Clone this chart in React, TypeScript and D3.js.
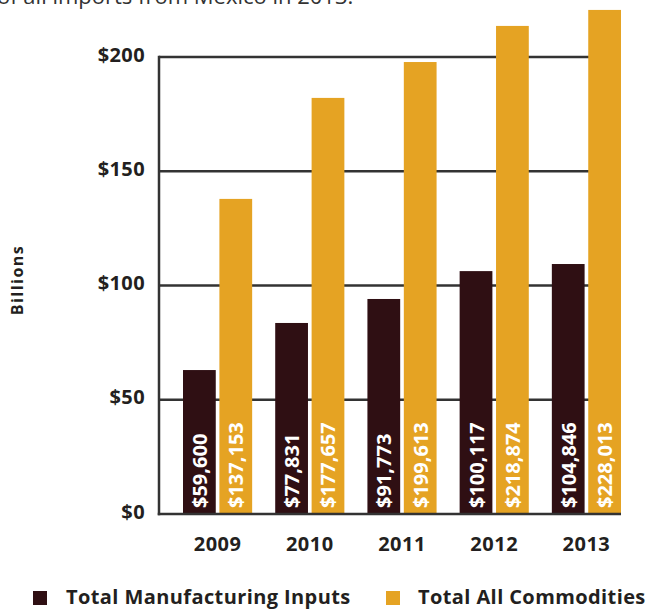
import React from "react";
import * as d3 from "d3";

const years = ["2009", "2010", "2011", "2012", "2013"];
const series = ["Total Manufacturing Inputs", "Total All Commodities"];
const manufacturing = [63.0, 83.6, 94.1, 106.3, 109.4];
const allCommodities = [137.9, 182.1, 197.8, 213.6, 220.6];
const manufacturingLabels = ["$59,600", "$77,831", "$91,773", "$100,117", "$104,846"];
const allCommoditiesLabels = ["$137,153", "$177,657", "$199,613", "$218,874", "$228,013"];
const yTicks = [0, 50, 100, 150, 200];
const colors = ["#2f0f13", "#e5a323"];

const FONT = "'Open Sans', 'Noto Sans', sans-serif";
const INK = "#231f20";

export default function App() {
  const W = 649;
  const H = 609;
  const axisX = 159;
  const right = 621;
  const y = d3.scaleLinear().domain([0, 200]).range([514, 57]);
  const x = d3.scaleBand<string>().domain(years).range([183, right]).paddingInner(0.25).paddingOuter(0);
  const xi = d3.scaleBand<string>().domain(series).range([0, x.bandwidth()]).paddingInner(0.1);
  const values = [manufacturing, allCommodities];
  const labels = [manufacturingLabels, allCommoditiesLabels];

  return (
    <svg width={W} height={H} style={{ position: "absolute", left: 0, top: 0 }} fontFamily={FONT}>
      <text x={-3} y={4} fontSize={22} fill="#333" fontFamily={FONT}>
        of all imports from Mexico in 2013.
      </text>
      {/* gridlines */}
      {yTicks.filter((t) => t > 0).map((t) => (
        <line key={t} x1={axisX} x2={right} y1={y(t)} y2={y(t)} stroke="#333" strokeWidth={2.5} />
      ))}
      {/* bars */}
      {years.map((yr, i) => (
        <g key={yr} transform={`translate(${x(yr)},0)`}>
          {series.map((s, j) => (
            <rect
              key={s}
              x={xi(s)}
              y={y(values[j][i])}
              width={xi.bandwidth()}
              height={y(0) - y(values[j][i])}
              fill={colors[j]}
            />
          ))}
          {series.map((s, j) => (
            <text
              key={s + "l"}
              transform={`translate(${(xi(s) || 0) + xi.bandwidth() / 2},${y(0) - 6}) rotate(-90)`}
              fill="#fff"
              fontWeight={700}
              fontSize={20}
              dominantBaseline="central"
              textAnchor="start"
            >
              {labels[j][i]}
            </text>
          ))}
        </g>
      ))}
      {/* axes */}
      <line x1={axisX} x2={axisX} y1={y(200) - 1.25} y2={y(0) + 1.25} stroke="#333" strokeWidth={2.5} />
      <line x1={axisX - 1.25} x2={right} y1={y(0)} y2={y(0)} stroke="#333" strokeWidth={2.5} />
      {yTicks.map((t) => (
        <text
          key={t}
          x={145}
          y={y(t) - 3}
          textAnchor="end"
          dominantBaseline="central"
          fontWeight={700}
          fontSize={20}
          letterSpacing={0.4}
          fill={INK}
        >
          ${t}
        </text>
      ))}
      {years.map((yr) => (
        <text
          key={yr}
          x={(x(yr) || 0) + x.bandwidth() / 2}
          y={551}
          textAnchor="middle"
          fontWeight={700}
          fontSize={20}
          letterSpacing={0.5}
          fill={INK}
        >
          {yr}
        </text>
      ))}
      <text
        transform="translate(17,280) rotate(-90)"
        textAnchor="middle"
        dominantBaseline="central"
        fontWeight={700}
        fontSize={16}
        letterSpacing={1.5}
        fill={INK}
      >
        Billions
      </text>
      {/* legend */}
      <rect x={33} y={591} width={14} height={14} fill={colors[0]} />
      <text x={66} y={604} fontWeight={700} fontSize={20} letterSpacing={0.4} fill={INK}>
        {series[0]}
      </text>
      <rect x={386} y={591} width={14} height={14} fill={colors[1]} />
      <text x={418} y={604} fontWeight={700} fontSize={20} letterSpacing={0.4} fill={INK}>
        {series[1]}
      </text>
    </svg>
  );
}
